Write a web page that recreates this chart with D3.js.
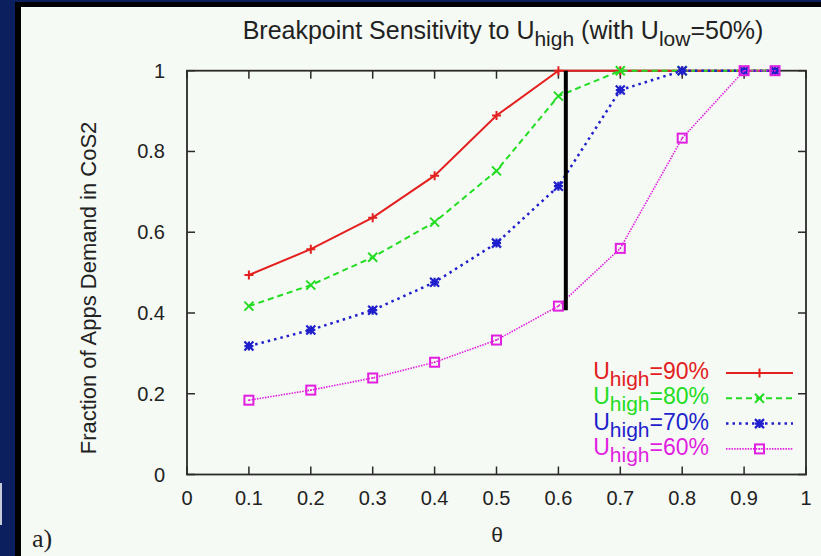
<!DOCTYPE html>
<html><head><meta charset="utf-8">
<script src="https://cdn.jsdelivr.net/npm/d3@7"></script>
<style>html,body{margin:0;padding:0;background:#0b1f5e;}svg{display:block;}</style>
</head><body>
<svg id="c" width="821" height="556"></svg>
<script>
const thetas = [0.1,0.2,0.3,0.4,0.5,0.6,0.7,0.8,0.9,0.95];
const u90 = [0.494,0.558,0.636,0.740,0.889,1,1,1,1,1];
const u80 = [0.417,0.469,0.538,0.625,0.752,0.937,1,1,1,1];
const u70 = [0.318,0.358,0.407,0.476,0.573,0.714,0.952,1,1,1];
const u60 = [0.184,0.209,0.239,0.278,0.333,0.417,0.560,0.833,1,1];
const seriesNames = ["90%","80%","70%","60%"];
const xTicks = [0,0.1,0.2,0.3,0.4,0.5,0.6,0.7,0.8,0.9,1];
const yTicks = [0,0.2,0.4,0.6,0.8,1];
const breakX = 0.612, breakYLow = 0.407;

const svg = d3.select("#c");
const W = 821, H = 556;
// background frame
svg.append("rect").attr("x",0).attr("y",0).attr("width",W).attr("height",H).attr("fill","#0b1f5e");
svg.append("rect").attr("x",15).attr("y",2).attr("width",W-15).attr("height",H-2).attr("fill","#000");
svg.append("rect").attr("x",21).attr("y",7).attr("width",W-21).attr("height",H-7).attr("fill","#f6faf4");
svg.append("rect").attr("x",0).attr("y",483).attr("width",2).attr("height",42).attr("fill","#c8ccd8");

const x = d3.scaleLinear().domain([0,1]).range([187,806]);
const y = d3.scaleLinear().domain([0,1]).range([474.5,70.7]);
const font = "'Liberation Sans', Arial, sans-serif";
const axisCol = "#2a2a2a";

// ticks (mirrored, inward)
const g = svg.append("g");
const tl = 8;
xTicks.forEach(t => {
  g.append("line").attr("x1",x(t)).attr("x2",x(t)).attr("y1",y(0)).attr("y2",y(0)-tl).attr("stroke",axisCol).attr("stroke-width",1.5);
  g.append("line").attr("x1",x(t)).attr("x2",x(t)).attr("y1",y(1)).attr("y2",y(1)+tl).attr("stroke",axisCol).attr("stroke-width",1.5);
  g.append("text").attr("x",x(t)).attr("y",y(0)+30).attr("text-anchor","middle")
    .attr("font-family",font).attr("font-size",20).attr("fill","#222").text(d3.format("")(t));
});
yTicks.forEach(t => {
  g.append("line").attr("x1",x(0)).attr("x2",x(0)+tl).attr("y1",y(t)).attr("y2",y(t)).attr("stroke",axisCol).attr("stroke-width",1.5);
  g.append("line").attr("x1",x(1)).attr("x2",x(1)-tl).attr("y1",y(t)).attr("y2",y(t)).attr("stroke",axisCol).attr("stroke-width",1.5);
  g.append("text").attr("x",x(0)-22).attr("y",y(t)+7).attr("text-anchor","end")
    .attr("font-family",font).attr("font-size",20).attr("fill","#222").text(d3.format("")(t));
});
g.append("rect").attr("x",x(0)).attr("y",y(1)).attr("width",x(1)-x(0)).attr("height",y(0)-y(1))
  .attr("fill","none").attr("stroke",axisCol).attr("stroke-width",1.8);

// series
const series = [
  {name:seriesNames[0], vals:u90, color:"#e3201f", dash:null, w:2, marker:"plus"},
  {name:seriesNames[1], vals:u80, color:"#22dd22", dash:"6,4", w:2, marker:"cross"},
  {name:seriesNames[2], vals:u70, color:"#1f1fcc", dash:"2.5,4", w:2.5, marker:"star"},
  {name:seriesNames[3], vals:u60, color:"#e01fe0", dash:"1.5,1.2", w:1.6, marker:"square"}
];
function drawMarker(sel, type, cx, cy, color){
  const s = 4.5;
  if(type==="plus"){
    sel.append("path").attr("d",`M${cx-s},${cy}H${cx+s}M${cx},${cy-s}V${cy+s}`).attr("stroke",color).attr("stroke-width",2).attr("fill","none");
  } else if(type==="cross"){
    sel.append("path").attr("d",`M${cx-s},${cy-s}L${cx+s},${cy+s}M${cx-s},${cy+s}L${cx+s},${cy-s}`).attr("stroke",color).attr("stroke-width",2).attr("fill","none");
  } else if(type==="star"){
    sel.append("path").attr("d",`M${cx-s},${cy}H${cx+s}M${cx},${cy-s}V${cy+s}M${cx-s},${cy-s}L${cx+s},${cy+s}M${cx-s},${cy+s}L${cx+s},${cy-s}`).attr("stroke",color).attr("stroke-width",2.2).attr("fill","none");
    sel.append("rect").attr("x",cx-2.5).attr("y",cy-2.5).attr("width",5).attr("height",5).attr("fill",color);
  } else {
    sel.append("rect").attr("x",cx-4.5).attr("y",cy-4.5).attr("width",9).attr("height",9).attr("fill","none").attr("stroke",color).attr("stroke-width",2);
    sel.append("rect").attr("x",cx-0.8).attr("y",cy-0.8).attr("width",1.6).attr("height",1.6).attr("fill",color);
  }
}
const line = d3.line().x(d=>x(d[0])).y(d=>y(d[1]));
series.forEach(s => {
  const pts = thetas.map((t,i)=>[t,s.vals[i]]);
  const p = svg.append("path").datum(pts).attr("d",line).attr("fill","none").attr("stroke",s.color).attr("stroke-width",s.w);
  if(s.dash) p.attr("stroke-dasharray",s.dash);
  const mg = svg.append("g");
  pts.forEach(d => drawMarker(mg, s.marker, x(d[0]), y(d[1]), s.color));
});

// breakpoint line
svg.append("line").attr("x1",x(breakX)).attr("x2",x(breakX)).attr("y1",y(1)).attr("y2",y(breakYLow))
  .attr("stroke","#000").attr("stroke-width",4);

// legend
const legTop = 379, legStep = 25.3;
series.forEach((s,i) => {
  const by = legTop + i*legStep;
  const t = svg.append("text").attr("x",709).attr("y",by).attr("text-anchor","end")
    .attr("font-family",font).attr("font-size",23).attr("fill",s.color);
  t.append("tspan").text("U");
  t.append("tspan").attr("dy",7).attr("font-size",21).text("high");
  t.append("tspan").attr("dy",-7).text("=" + s.name);
  const ly = by - 6;
  const lp = svg.append("line").attr("x1",726).attr("x2",793).attr("y1",ly).attr("y2",ly).attr("stroke",s.color).attr("stroke-width",s.w);
  if(s.dash) lp.attr("stroke-dasharray",s.dash);
  drawMarker(svg.append("g"), s.marker, 759.5, ly, s.color);
});

// title
const title = svg.append("text").attr("x",503).attr("y",39).attr("text-anchor","middle")
  .attr("font-family",font).attr("font-size",25).attr("fill","#222");
title.append("tspan").text("Breakpoint Sensitivity to U");
title.append("tspan").attr("dy",7).attr("font-size",21).text("high");
title.append("tspan").attr("dy",-7).text(" (with U");
title.append("tspan").attr("dy",7).attr("font-size",21).text("low");
title.append("tspan").attr("dy",-7).text("=50%)");

// axis labels
svg.append("text").attr("transform","translate(96,288) rotate(-90)").attr("text-anchor","middle")
  .attr("font-family",font).attr("font-size",22).attr("fill","#222").text("Fraction of Apps Demand in CoS2");
svg.append("text").attr("x",497).attr("y",542).attr("text-anchor","middle")
  .attr("font-family",font).attr("font-size",21).attr("fill","#222").text("θ");
svg.append("text").attr("x",32).attr("y",547)
  .attr("font-family","'Liberation Serif', 'Times New Roman', serif").attr("font-size",26).attr("fill","#222").text("a)");
</script>
</body></html>
